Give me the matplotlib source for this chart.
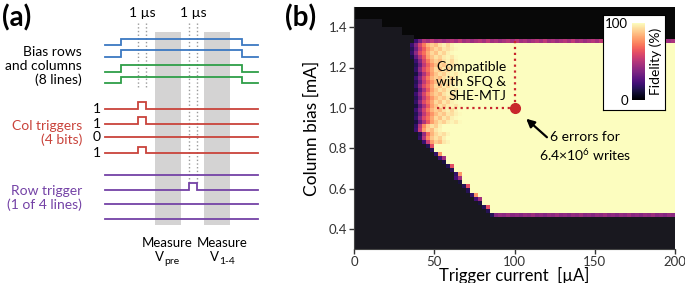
import numpy as np
import matplotlib.pyplot as plt

plt.rcParams['font.family'] = ['Lato', 'DejaVu Sans']
plt.rcParams['mathtext.fontset'] = 'custom'
plt.rcParams['mathtext.rm'] = 'Lato'
plt.rcParams['mathtext.default'] = 'regular'

# ---------------- (a) timing diagram data (times in us) ----------------
t_end = 18.0
bias_on, bias_off = 1.9, 16.1
col_pulse = (3.85, 4.85)
row_pulse = (9.85, 10.85)
meas_pre = (5.9, 8.95)
meas_14 = (11.65, 14.7)
col_bits = [1, 1, 0, 1]
row_sel = [0, 1, 0, 0]
bias_colors = ['#3b78c2', '#3b78c2', '#2e9e48', '#2e9e48']

# ---------------- (b) fidelity map data ----------------
x_edges = np.arange(0, 200.1, 2.5)          # trigger current [uA]
y_edges = np.arange(0.30, 1.5001, 0.02)     # column bias [mA]
# top of measured region for the low-current columns
left_top_x = [17.5, 30.0, 37.5]
left_top_y = [1.44, 1.40, 1.36]
data_top = 1.34
# first non-dark column (uA) for rows 0.48 ... 1.30 mA
dark_edge = [82.5, 80, 77.5, 75, 72.5, 70, 67.5, 65, 62.5, 62.5,
             60, 57.5, 55, 52.5, 50, 47.5, 45, 42.5, 40, 40,
             37.5, 37.5, 37.5, 37.5, 37.5, 37.5, 37.5, 37.5, 37.5, 37.5,
             37.5, 37.5, 37.5, 37.5, 37.5, 37.5, 37.5, 37.5, 35, 35, 35, 35]
narrow = [[15, 100], [15, 62, 100], [12, 100], [22, 45, 100], [18, 78, 100]]
medium = [[18, 50, 75, 88, 94, 90, 97], [15, 42, 68, 84, 92, 96, 93, 98],
          [20, 55, 80, 90, 86, 95, 98]]
wide = [[15, 32, 52, 66, 78, 86, 92, 88, 95, 93, 97, 99],
        [20, 38, 58, 72, 84, 90, 86, 94, 97, 92, 98],
        [12, 30, 48, 64, 80, 88, 94, 90, 96, 98, 95, 99],
        [18, 40, 60, 70, 82, 92, 87, 95, 91, 97, 99]]
bottom_row_y, bottom_start = 0.46, 85.0
bottom_vals = [15, 38, 42, 40, 44, 39, 41]
top_row_y = 1.32
top_head = [20, 35]
top_vals = [50, 46, 52, 45, 48, 44, 47]

fig = plt.figure(figsize=(6.85, 2.83), dpi=100)

# ---------------- panel (a) ----------------
px_per_us = 8.5
t0_px = 105
wa = 280.85
axa = fig.add_axes([0, 0, wa / 685, 1])
axa.set_xlim(-t0_px / px_per_us, (wa - t0_px) / px_per_us)
axa.set_ylim(283, 0)
axa.axis('off')

for band in (meas_pre, meas_14):
    axa.fill_between(band, 32, 225, color='#d4d3d3', lw=0, zorder=0)

for x in col_pulse:
    axa.plot([x, x], [23, 87], ls=':', color='#9a9a9a', lw=1)
for x in row_pulse:
    axa.plot([x, x], [23, 183], ls=':', color='#9a9a9a', lw=1)
axa.text(np.mean(col_pulse), 13, '1 µs', ha='center', va='center', fontsize=10)
axa.text(np.mean(row_pulse), 13, '1 µs', ha='center', va='center', fontsize=10)


def step_line(y, t_hi0, t_hi1, h, color):
    ts = [0, t_hi0, t_hi0, t_hi1, t_hi1, t_end]
    ys = [y, y, y - h, y - h, y, y]
    axa.plot(ts, ys, color=color, lw=1.3, solid_joinstyle='miter')


bias_y = [45, 56.7, 71.7, 83.3]
for y, c in zip(bias_y, bias_colors):
    step_line(y, bias_on, bias_off, 6.5, c)

col_y = [109, 124, 137.3, 153.3]
for y, b in zip(col_y, col_bits):
    step_line(y, col_pulse[0], col_pulse[1], 6.7 * b, '#c9433b')
    axa.text(-0.5, y, str(b), ha='right', va='center', fontsize=10)

row_y = [175, 190, 204.3, 219]
for y, s in zip(row_y, row_sel):
    step_line(y, row_pulse[0], row_pulse[1], 6.7 * s, '#7442a6')

lab_x = (82 - t0_px) / px_per_us
axa.text(lab_x, 66, 'Bias rows\nand columns\n(8 lines)', ha='right', va='center',
         multialignment='right', fontsize=10, linespacing=1.2)
axa.text(lab_x, 133, 'Col triggers\n(4 bits)', ha='right', va='center',
         multialignment='right', fontsize=10, linespacing=1.2, color='#c9433b')
axa.text(lab_x, 198, 'Row trigger\n(1 of 4 lines)', ha='right', va='center',
         multialignment='right', fontsize=10, linespacing=1.2, color='#7442a6')

for xc, sub in ((np.mean(meas_pre) - 0.1, 'pre'), (np.mean(meas_14) + 0.6, '1-4')):
    axa.text(xc, 243, 'Measure', ha='center', va='center', fontsize=9.5)
    axa.text(xc - 0.9, 257, 'V', ha='center', va='center', fontsize=9.5)
    axa.annotate(sub, xy=(xc - 0.9, 257), xytext=(3.5, -3), textcoords='offset points',
                 ha='left', va='center', fontsize=7.5)

# ---------------- panel (b) ----------------
ny, nx = len(y_edges) - 1, len(x_edges) - 1
xl = x_edges[:-1]
yl = y_edges[:-1]
Z = np.full((ny, nx), np.nan)
for j, x0 in enumerate(xl):
    top = data_top
    for lx, ly in zip(left_top_x, left_top_y):
        if x0 < lx:
            top = ly
            break
    Z[yl < top - 1e-9, j] = -1


def fill_row(k, start, head, tail):
    j0 = int(round(start / 2.5))
    vals = list(head)
    i = 0
    while j0 + len(vals) < nx:
        vals.append(tail[i % len(tail)])
        i += 1
    Z[k, j0:j0 + len(vals)] = vals[:nx - j0]


k_bot = int(round((bottom_row_y - 0.30) / 0.02))
fill_row(k_bot, bottom_start, bottom_vals[:1], bottom_vals[1:])
for i, edge in enumerate(dark_edge):
    k = k_bot + 1 + i
    if i < 17:
        prof = narrow[i % len(narrow)]
    elif i < 22:
        prof = medium[i % len(medium)]
    else:
        prof = wide[i % len(wide)]
    fill_row(k, edge, prof, [100])
k_top = int(round((top_row_y - 0.30) / 0.02))
fill_row(k_top, 37.5, top_head, top_vals)

cmap = plt.get_cmap('magma').copy()
cmap.set_under('#19181f')
cmap.set_bad('#080808')

axb = fig.add_axes([354 / 685, 1 - 249 / 283, 321 / 685, 242 / 283])
axb.set_facecolor('#080808')
mesh = axb.pcolormesh(x_edges, y_edges, np.ma.masked_invalid(Z), cmap=cmap,
                      vmin=0, vmax=100, rasterized=True)
axb.set_xlim(0, 200)
axb.set_ylim(0.30, 1.50)
axb.set_xticks([0, 50, 100, 150, 200])
axb.set_yticks([0.4, 0.6, 0.8, 1.0, 1.2, 1.4])
axb.yaxis.set_major_formatter(plt.FormatStrFormatter('%.1f'))
axb.tick_params(labelsize=9.5, colors='#333333', length=3.5, width=1, pad=1.5)
for s in ('top', 'right'):
    axb.spines[s].set_visible(False)
for s in ('left', 'bottom'):
    axb.spines[s].set_color('#444444')
axb.set_xlabel('Trigger current  [µA]', fontsize=12, labelpad=-1)
axb.set_ylabel('Column bias [mA]', fontsize=12.5, labelpad=6)

red = '#c8262c'
axb.plot([100, 100], [1.0, 1.33], ls=':', color=red, lw=1.6)
axb.plot([52, 100], [1.0, 1.0], ls=':', color=red, lw=1.6)
axb.plot([100], [1.0], 'o', color=red, ms=7)
axb.text(95, 1.13, 'Compatible\nwith SFQ &\nSHE-MTJ', ha='right', va='center',
         multialignment='right', fontsize=10, linespacing=1.25)
axb.annotate('', xy=(106, 0.955), xytext=(121.5, 0.845),
             arrowprops=dict(arrowstyle='-|>', color='black', lw=1.6, mutation_scale=12))
axb.text(144, 0.808, '6 errors for\n6.4×10$^{6}$ writes', ha='center', va='center',
         fontsize=10, linespacing=1.3)

box = axb.inset_axes([0.776, 0.574, 0.193, 0.393])
box.set_xticks([])
box.set_yticks([])
box.set_facecolor('white')
for s in box.spines.values():
    s.set_linewidth(0.8)
cax = axb.inset_axes([0.866, 0.616, 0.04, 0.318])
cb = fig.colorbar(mesh, cax=cax, ticks=[0, 100])
cb.outline.set_visible(False)
cax.yaxis.set_ticks_position('left')
cax.tick_params(length=0, labelsize=9.5, pad=3)
cax.yaxis.set_label_position('right')
cax.set_ylabel('Fidelity (%)', fontsize=10, labelpad=3)

fig.text(0.003, 0.985, '(a)', fontsize=20, fontweight='bold', va='top', ha='left')
fig.text(0.416, 0.985, '(b)', fontsize=20, fontweight='bold', va='top', ha='left')

fig.savefig('out.png', dpi=100)
